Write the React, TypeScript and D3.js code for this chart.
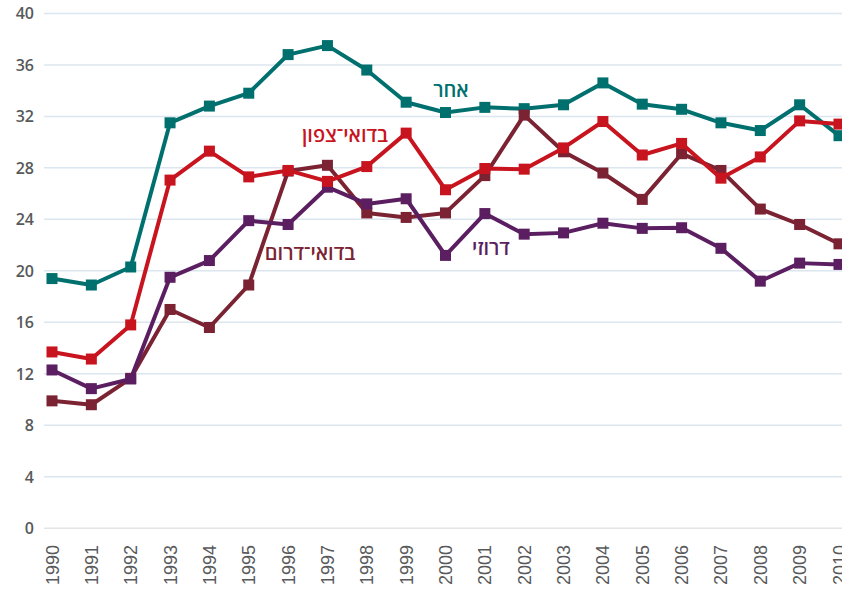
import React, { useEffect, useRef } from 'react';
import * as d3 from 'd3';

const years = [1990, 1991, 1992, 1993, 1994, 1995, 1996, 1997, 1998, 1999, 2000,
  2001, 2002, 2003, 2004, 2005, 2006, 2007, 2008, 2009, 2010];

const other = [19.4, 18.9, 20.3, 31.5, 32.8, 33.8, 36.8, 37.5, 35.6, 33.1, 32.3,
  32.7, 32.6, 32.9, 34.6, 32.95, 32.55, 31.5, 30.9, 32.9, 30.5];
const bedouinNorth = [13.7, 13.15, 15.8, 27.05, 29.3, 27.3, 27.8, 26.95, 28.1, 30.7, 26.3,
  27.95, 27.9, 29.55, 31.6, 29.0, 29.9, 27.2, 28.85, 31.65, 31.4];
const bedouinSouth = [9.9, 9.6, 11.65, 17.0, 15.6, 18.9, 27.75, 28.2, 24.5, 24.15, 24.5,
  27.4, 32.1, 29.25, 27.6, 25.55, 29.1, 27.8, 24.8, 23.6, 22.1];
const druze = [12.3, 10.85, 11.6, 19.5, 20.8, 23.9, 23.6, 26.5, 25.2, 25.6, 21.2,
  24.45, 22.85, 22.95, 23.7, 23.3, 23.35, 21.75, 19.2, 20.6, 20.5];

const yTicks = [0, 4, 8, 12, 16, 20, 24, 28, 32, 36, 40];

const seriesNames = ['אחר', 'בדואי־צפון', 'בדואי־דרום', 'דרוזי'];
const seriesColors = ['#00706f', '#c8141e', '#7b2332', '#5b1f61'];

const App = () => {
  const svgRef = useRef<SVGSVGElement | null>(null);

  useEffect(() => {
    if (!svgRef.current) return;
    const svg = d3.select(svgRef.current);
    svg.selectAll('*').remove();

    const x = d3.scaleLinear().domain([1990, 2010]).range([52, 839]);
    const y = d3.scaleLinear().domain([0, 40]).range([528.3, 13.4]);

    // gridlines
    svg.append('g')
      .selectAll('line')
      .data(yTicks)
      .enter()
      .append('line')
      .attr('x1', 44)
      .attr('x2', 842)
      .attr('y1', d => y(d))
      .attr('y2', d => y(d))
      .attr('stroke', d => (d === 0 ? '#e2e4e6' : '#dce6ee'))
      .attr('stroke-width', 1.5);

    // y tick labels
    svg.append('g')
      .selectAll('text')
      .data(yTicks)
      .enter()
      .append('text')
      .attr('x', 34)
      .attr('y', d => y(d) + 5.8)
      .attr('text-anchor', 'end')
      .attr('font-family', '"Open Sans", sans-serif')
      .attr('font-size', '16px')
      .attr('font-weight', 600)
      .attr('fill', '#58595b')
      .text(d => d);

    // x tick labels (rotated)
    svg.append('g')
      .selectAll('text')
      .data(years)
      .enter()
      .append('text')
      .attr('transform', d => `translate(${x(d) + 6.5}, 545) rotate(-90)`)
      .attr('text-anchor', 'end')
      .attr('font-family', '"Liberation Sans", Arial, sans-serif')
      .attr('font-size', '18px')
      .attr('fill', '#58595b')
      .text(d => d);

    const allSeries = [other, bedouinNorth, bedouinSouth, druze];
    const drawOrder = [0, 2, 3, 1];

    const line = d3.line<number>()
      .x((_, i) => x(years[i]))
      .y(d => y(d));

    drawOrder.forEach(si => {
      const values = allSeries[si];
      const g = svg.append('g');
      g.append('path')
        .datum(values)
        .attr('d', line)
        .attr('fill', 'none')
        .attr('stroke', seriesColors[si])
        .attr('stroke-width', 4)
        .attr('stroke-linejoin', 'round');
      g.selectAll('rect')
        .data(values)
        .enter()
        .append('rect')
        .attr('x', (_, i) => x(years[i]) - 5.5)
        .attr('y', d => y(d) - 5.5)
        .attr('width', 11)
        .attr('height', 11)
        .attr('fill', seriesColors[si]);
    });

    // series labels
    const labels = [
      { x: 451, y: 97 },
      { x: 345, y: 142 },
      { x: 310, y: 260 },
      { x: 491, y: 255 },
    ];
    labels.forEach((l, i) => {
      svg.append('text')
        .attr('x', l.x)
        .attr('y', l.y)
        .attr('text-anchor', 'middle')
        .attr('font-family', '"Open Sans", "Noto Sans", sans-serif')
        .attr('font-size', '20px')
        .attr('font-weight', 600)
        .attr('fill', seriesColors[i])
        .text(seriesNames[i]);
    });
  }, []);

  return (
    <svg
      ref={svgRef}
      width={842}
      height={591}
      style={{ position: 'absolute', left: 0, top: 0, background: '#fff' }}
    />
  );
};

export default App;
